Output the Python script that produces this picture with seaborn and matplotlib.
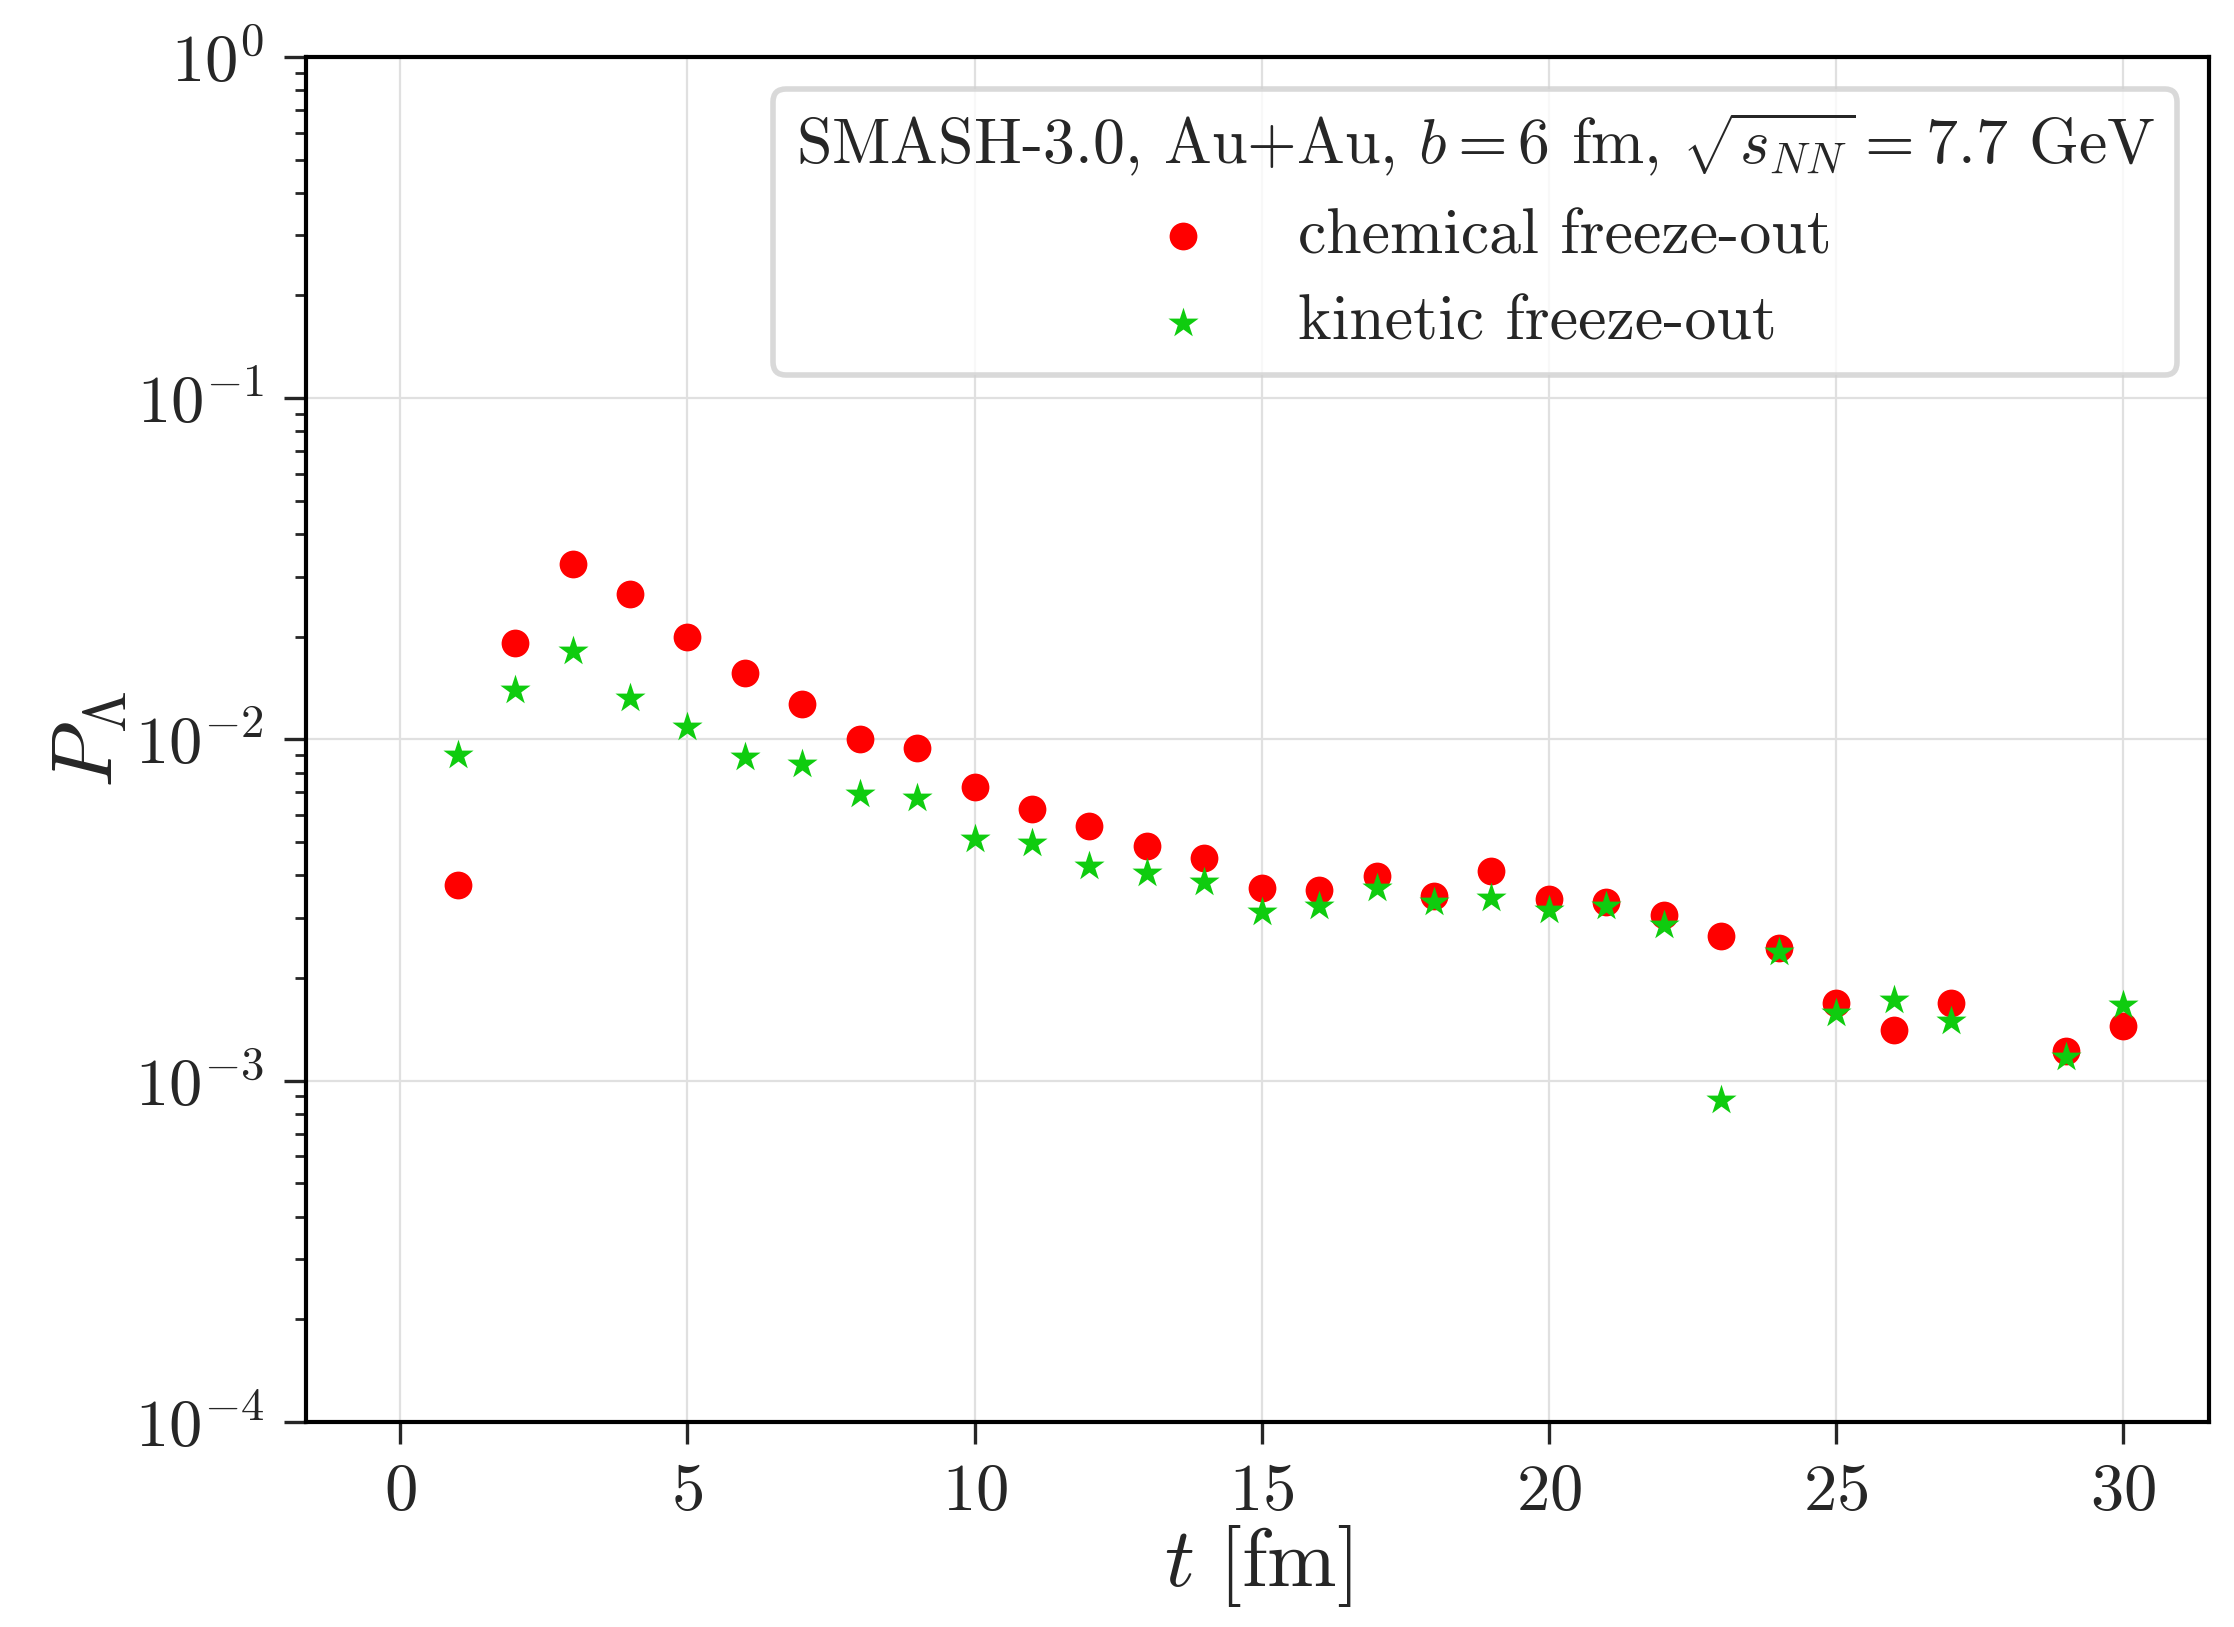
import numpy as np
import pandas as pd
import matplotlib
matplotlib.use("Agg")
import matplotlib.pyplot as plt
import seaborn as sns

t_chem = [1, 2, 3, 4, 5, 6, 7, 8, 9, 10, 11, 12, 13, 14, 15, 16, 17, 18, 19, 20,
          21, 22, 23, 24, 25, 26, 27, 29, 30]
p_chem = [3.75e-3, 0.0192, 0.0327, 0.0267, 0.0200, 0.0157, 0.0127, 0.0100, 0.00944, 0.00728,
          0.00624, 0.00556, 0.00486, 0.00450, 0.00368, 0.00361, 0.00397, 0.00347, 0.00413, 0.00341,
          0.00334, 0.00306, 0.00265, 0.00245, 0.00169, 0.00141, 0.00169, 0.00122, 0.00145]
t_kin = [1, 2, 3, 4, 5, 6, 7, 8, 9, 10, 11, 12, 13, 14, 15, 16, 17, 18, 19, 20,
         21, 22, 23, 24, 25, 26, 27, 29, 30]
p_kin = [0.0090, 0.0140, 0.0182, 0.0132, 0.0109, 0.00891, 0.00849, 0.00693, 0.00674, 0.00510,
         0.00496, 0.00425, 0.00405, 0.00382, 0.00313, 0.00325, 0.00368, 0.00334, 0.00344, 0.00316,
         0.00325, 0.00286, 0.000879, 0.00239, 0.00158, 0.00172, 0.00150, 0.00117, 0.00167]

label_chem = "chemical freeze-out"
label_kin = "kinetic freeze-out"
legend_title = r"SMASH-3.0, Au+Au, $b = 6$ fm, $\sqrt{s_{NN}} = 7.7$ GeV"

sns.set_theme(style="white")
plt.rcParams.update({
    "font.family": "serif",
    "font.serif": ["cmr10", "DejaVu Serif"],
    "mathtext.fontset": "cm",
    "axes.formatter.use_mathtext": True,
    "axes.unicode_minus": False,
})

fig = plt.figure(figsize=(11.17, 8.135), dpi=200)
ax = fig.add_axes([0.137, 0.126, 0.852, 0.839])

df_c = pd.DataFrame({"t": t_chem, "P": p_chem})
df_k = pd.DataFrame({"t": t_kin, "P": p_kin})
sns.scatterplot(data=df_c, x="t", y="P", ax=ax, color="#ff0000", marker="o", s=100,
                linewidth=0, label=label_chem, zorder=3)
sns.scatterplot(data=df_k, x="t", y="P", ax=ax, color="#0fcc0f", marker="*", s=130,
                linewidth=0, label=label_kin, zorder=4)

ax.set_yscale("log")
ax.set_ylim(1e-4, 1)
ax.set_xlim(-1.64, 31.5)
ax.set_xticks([0, 5, 10, 15, 20, 25, 30])
ax.grid(True, which="major", color="#e0e0e0", linewidth=0.8)
ax.set_axisbelow(True)

for sp in ax.spines.values():
    sp.set_color("black")
    sp.set_linewidth(1.5)

ax.tick_params(axis="both", which="major", direction="out", length=8, width=1.2,
               labelsize=24, bottom=True, left=True, top=False, right=False, pad=7)
ax.tick_params(axis="y", which="minor", direction="out", length=4, width=1.0, left=True)

ax.set_xlabel(r"$t\ [\mathrm{fm}]$", fontsize=30, labelpad=0)
ax.set_ylabel(r"$P_\Lambda$", fontsize=31, labelpad=2)

leg = ax.legend(title=legend_title, loc="upper right", fontsize=23, title_fontsize=23,
                frameon=True, fancybox=True, handletextpad=0.8, borderpad=0.35,
                labelspacing=0.45, borderaxespad=0.5, markerscale=1.0)
leg.get_frame().set_edgecolor("#d0d0d0")
leg.get_frame().set_linewidth(2.0)

fig.savefig("out.png", dpi=200)
